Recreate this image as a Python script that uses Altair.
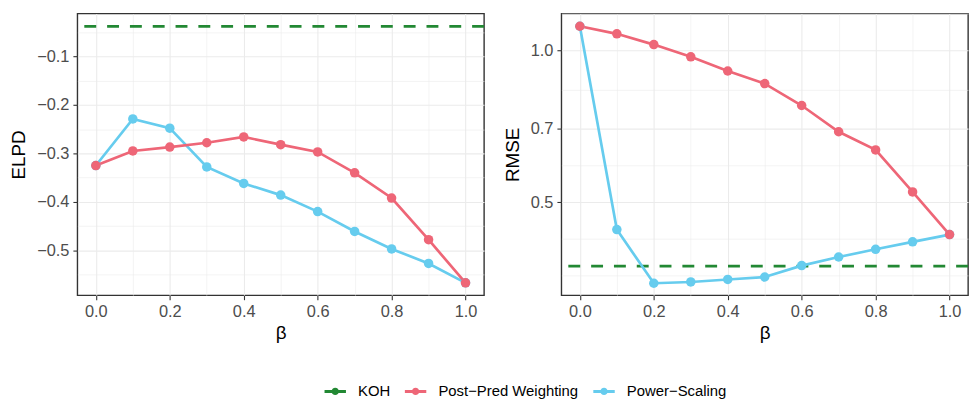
import altair as alt
import pandas as pd

# ---------------- data ----------------
beta = [0.0, 0.1, 0.2, 0.3, 0.4, 0.5, 0.6, 0.7, 0.8, 0.9, 1.0]
elpd_post_pred = [-0.325, -0.295, -0.287, -0.278, -0.266, -0.282, -0.297, -0.340, -0.392, -0.478, -0.567]
elpd_power = [-0.325, -0.229, -0.248, -0.328, -0.362, -0.386, -0.420, -0.461, -0.497, -0.527, -0.567]
rmse_post_pred = [1.118, 1.080, 1.028, 0.972, 0.911, 0.860, 0.778, 0.690, 0.635, 0.524, 0.431]
rmse_power = [1.118, 0.441, 0.345, 0.347, 0.351, 0.355, 0.374, 0.389, 0.403, 0.417, 0.431]
koh_elpd = -0.038
koh_rmse = 0.373

series_names = ["KOH", "Post\u2212Pred Weighting", "Power\u2212Scaling"]
series_colors = ["#228833", "#EE6677", "#66CCEE"]

# axis tick / grid values (majors + ggplot-style minor breaks)
x_ticks = [0.0, 0.1, 0.2, 0.3, 0.4, 0.5, 0.6, 0.7, 0.8, 0.9, 1.0]
elpd_ticks = [-0.55, -0.5, -0.45, -0.4, -0.35, -0.3, -0.25, -0.2, -0.15, -0.1, -0.05]
rmse_ticks = [0.3571, 0.4226, 0.5, 0.5916, 0.7, 0.8367, 1.0, 1.183]
rmse_major = [0.5, 0.7, 1.0]

FONT = "Liberation Sans"

power_name = series_names[2]
post_name = series_names[1]


def make_df(power_vals, post_vals):
    return pd.DataFrame({
        "beta": beta + beta,
        "value": power_vals + post_vals,
        "series": [power_name] * len(beta) + [post_name] * len(beta),
    })


df_left = make_df(elpd_power, elpd_post_pred)
df_right = make_df(rmse_power, rmse_post_pred)
koh_left = pd.DataFrame({"value": [koh_elpd], "series": [series_names[0]]})
koh_right = pd.DataFrame({"value": [koh_rmse], "series": [series_names[0]]})

# ---------------- styling helpers ----------------
x_major_test = "round(datum.value * 10) % 2 == 0"
elpd_major_test = "abs(datum.value * 10 - round(datum.value * 10)) < 1e-6"
rmse_major_test = " || ".join(f"abs(datum.value - {v}) < 1e-6" for v in rmse_major)


def cond(test, a, b):
    return {"condition": {"test": test, "value": a}, "value": b}


def make_axis(values, test, title, fmt=".1f", title_pad=9):
    return alt.Axis(
        values=values,
        labelExpr=f"({test}) ? format(datum.value, '{fmt}') : ''",
        tickOpacity=cond(test, 1, 0),
        gridWidth=cond(test, 1.1, 0.55),
        title=title,
        titlePadding=title_pad,
    )


sym_solid = ("M-1,-0.14L1,-0.14L1,0.14L-1,0.14Z "
             "M-0.34,0A0.34,0.34 0 1 1 0.34,0A0.34,0.34 0 1 1 -0.34,0Z")

color_scale = alt.Scale(domain=series_names, range=series_colors)
legend = alt.Legend(
    orient="none",
    legendX=249,
    legendY=370,
    direction="horizontal",
    title=None,
    symbolType=sym_solid,
    symbolSize=466,
    symbolStrokeWidth=0,
    symbolOpacity=1,
    labelFont=FONT,
    labelFontSize=15,
    labelColor="black",
    labelOffset=12,
    columnPadding=14,
)
color_enc = alt.Color("series:N", scale=color_scale, legend=legend)

x_scale = alt.Scale(domain=[-0.05, 1.05], nice=False, zero=False)
x_axis = make_axis(x_ticks, x_major_test, "\u03b2", title_pad=4)


def panel(df, koh_df, y_scale, y_axis):
    rule = alt.Chart(koh_df).mark_rule(strokeWidth=2.7, strokeDash=[12, 11]).encode(
        y=alt.Y("value:Q", scale=y_scale, axis=y_axis),
        color=color_enc,
    )
    line = alt.Chart(df).mark_line(strokeWidth=2.7).encode(
        x=alt.X("beta:Q", scale=x_scale, axis=x_axis),
        y=alt.Y("value:Q", scale=y_scale, axis=y_axis),
        color=color_enc,
    )
    pts = alt.Chart(df).mark_circle(size=92, opacity=1).encode(
        x=alt.X("beta:Q", scale=x_scale, axis=x_axis),
        y=alt.Y("value:Q", scale=y_scale, axis=y_axis),
        color=color_enc,
        order=alt.Order("series:N", sort="descending"),
    )
    return alt.layer(rule, line, pts).properties(width=410, height=284)


left = panel(
    df_left, koh_left,
    alt.Scale(domain=[-0.5925, -0.0115], nice=False, zero=False),
    make_axis(elpd_ticks, elpd_major_test, "ELPD", title_pad=8),
)
right = panel(
    df_right, koh_right,
    alt.Scale(type="log", domain=[0.3266, 1.185], nice=False, zero=False),
    make_axis(rmse_ticks, rmse_major_test, "RMSE", title_pad=8),
)

chart = alt.hconcat(left, right, spacing=15).resolve_scale(
    y="independent"
).properties(
    padding={"left": 9, "top": 11, "right": 2, "bottom": 0},
    background="white",
).configure_view(
    stroke="#333333", strokeWidth=1.4
).configure_axis(
    labelFont=FONT, labelFontSize=16.5, labelColor="#4D4D4D", labelPadding=4,
    titleFont=FONT, titleFontSize=19, titleFontWeight="normal", titleColor="black",
    domain=False, tickColor="#333333", tickWidth=1.1, tickSize=4.5,
    gridColor="#EBEBEB",
)

chart.save("out.html", embed_options={"renderer": "svg", "actions": False})
